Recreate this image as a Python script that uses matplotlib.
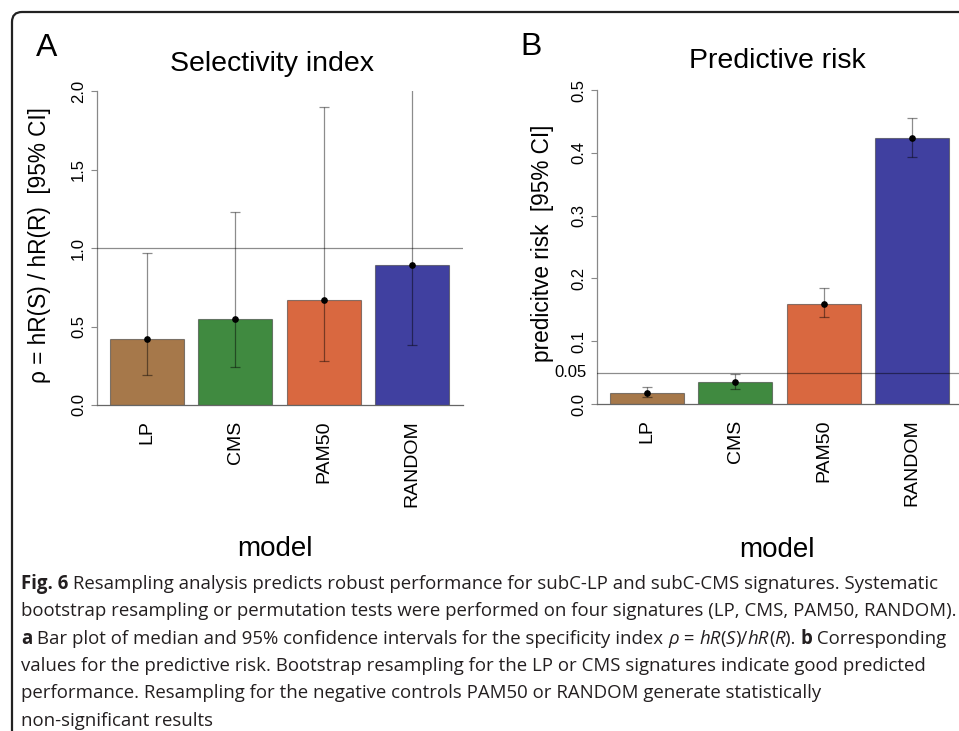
import matplotlib
matplotlib.use('Agg')
import matplotlib.pyplot as plt
from matplotlib.patches import FancyBboxPatch
import numpy as np

# data
models = ['LP', 'CMS', 'PAM50', 'RANDOM']
bar_colors = ['#A6784A', '#408A40', '#D96840', '#4040A0']

sel_median = [0.42, 0.545, 0.67, 0.89]
sel_lower = [0.19, 0.245, 0.28, 0.385]
sel_upper = [0.965, 1.23, 1.90, 2.10]   # RANDOM upper runs off the top

risk_median = [0.017, 0.0345, 0.160, 0.424]
risk_lower = [0.011, 0.024, 0.139, 0.393]
risk_upper = [0.027, 0.047, 0.185, 0.455]

sel_ticks = [0.0, 0.5, 1.0, 1.5, 2.0]
risk_ticks = [0.0, 0.1, 0.2, 0.3, 0.4, 0.5]

W, H = 959, 731
CHART_FONT = 'Liberation Sans'
CAP_FONT = 'Open Sans'

plt.rcParams['font.family'] = [CHART_FONT, 'DejaVu Sans']

fig = plt.figure(figsize=(W / 100, H / 100), dpi=100)


def fx(x):
    return x / W


def fy(y):
    return 1 - y / H


def draw_panel(ax, med, lo, hi, ymax, yticks, ref):
    med, lo, hi = np.array(med), np.array(lo), np.array(hi)
    x = 0.7 + 1.2 * np.arange(len(models))
    ax.bar(x, med, width=1.0, color=bar_colors,
           edgecolor=(0.2, 0.2, 0.2, 0.55), linewidth=0.8, zorder=2)
    ax.errorbar(x, med, yerr=[med - lo, hi - med], fmt='none',
                ecolor=(0, 0, 0, 0.45), elinewidth=0.9, capsize=3.5,
                capthick=0.9, zorder=3)
    ax.plot(x, med, 'o', color='black', ms=3.8, zorder=4)
    ax.axhline(ref, color=(0, 0, 0, 0.45), lw=0.9, zorder=5)
    ax.set_xlim(0.024, 4.99)
    ax.set_ylim(0, ymax)
    ax.set_xticks(x)
    ax.set_xticklabels(models, rotation=90, fontsize=14)
    ax.tick_params(axis='x', length=0, pad=11)
    ax.set_yticks(yticks)
    ax.set_yticklabels([f'{t:.1f}' for t in yticks], rotation=90,
                       va='center', fontsize=12)
    ax.tick_params(axis='y', length=4, width=0.8, color='#888', pad=4)
    for s in ['top', 'right']:
        ax.spines[s].set_visible(False)
    ax.spines['left'].set_color('#888')
    ax.spines['bottom'].set_color('#666')
    ax.spines['left'].set_linewidth(0.9)
    ax.spines['bottom'].set_linewidth(0.9)
    ax.set_facecolor('none')


ax1 = fig.add_axes([fx(97), fy(405), 366 / W, 314 / H])
draw_panel(ax1, sel_median, sel_lower, sel_upper, 2.0, sel_ticks, 1.0)

ax2 = fig.add_axes([fx(597), fy(404), 366 / W, 314 / H])
draw_panel(ax2, risk_median, risk_lower, risk_upper, 0.5, risk_ticks, 0.05)
ax2.annotate('0.05', xy=(0, 0.05), xycoords=('axes fraction', 'data'),
             xytext=(-7.5, 0), textcoords='offset points',
             ha='right', va='center', fontsize=12)

# panel letters, titles, axis labels
fig.text(fx(36), fy(56), 'A', fontsize=23, va='baseline', ha='left')
fig.text(fx(520), fy(55), 'B', fontsize=23, va='baseline', ha='left')
fig.text(fx(272), fy(71), 'Selectivity index', fontsize=20.5, ha='center', va='baseline')
fig.text(fx(777), fy(68), 'Predictive risk', fontsize=20.5, ha='center', va='baseline')
fig.text(fx(275), fy(556), 'model', fontsize=20, ha='center', va='baseline')
fig.text(fx(777), fy(557), 'model', fontsize=20, ha='center', va='baseline')
fig.text(fx(40), fy(245), 'ρ = hR(S) / hR(R)  [95% CI]', fontsize=16.3,
         rotation=90, ha='center', va='center')
fig.text(fx(542), fy(243), 'predicitve risk  [95% CI]', fontsize=16.3,
         rotation=90, ha='center', va='center')

# rounded frame, open to the right and bottom
frame = FancyBboxPatch((0.12, -1.0), 12.0, 7.19 + 1.0,
                       boxstyle='round,pad=0,rounding_size=0.1',
                       transform=fig.dpi_scale_trans, fill=False,
                       lw=1.6, ec='#222')
fig.add_artist(frame)

# caption
cap_size = 13.4
cap_lines = [
    [('Fig. 6', 'bold', 'normal'),
     (' Resampling analysis predicts robust performance for subC-LP and subC-CMS signatures. Systematic', 'normal', 'normal')],
    [('bootstrap resampling or permutation tests were performed on four signatures (LP, CMS, PAM50, RANDOM).', 'normal', 'normal')],
    [('a', 'bold', 'normal'),
     (' Bar plot of median and 95% confidence intervals for the specificity index ', 'normal', 'normal'),
     ('ρ', 'normal', 'italic'), (' = ', 'normal', 'normal'),
     ('hR', 'normal', 'italic'), ('(', 'normal', 'normal'), ('S', 'normal', 'italic'),
     (')/', 'normal', 'normal'), ('hR', 'normal', 'italic'), ('(', 'normal', 'normal'),
     ('R', 'normal', 'italic'), ('). ', 'normal', 'normal'),
     ('b', 'bold', 'normal'), (' Corresponding', 'normal', 'normal')],
    [('values for the predictive risk. Bootstrap resampling for the LP or CMS signatures indicate good predicted', 'normal', 'normal')],
    [('performance. Resampling for the negative controls PAM50 or RANDOM generate statistically', 'normal', 'normal')],
    [('non-significant results', 'normal', 'normal')],
]
cap_baselines = [589, 616.5, 644, 671, 698.5, 726]

renderer = fig.canvas.get_renderer()


def advance(txt, weight, style):
    # width including leading/trailing spaces, measured between two bars
    kw = dict(fontsize=cap_size, fontweight=weight, fontstyle=style,
              family=[CAP_FONT, 'DejaVu Sans'])
    a = fig.text(0, 0, '|' + txt + '|', **kw)
    b = fig.text(0, 0, '||', **kw)
    w = a.get_window_extent(renderer).width - b.get_window_extent(renderer).width
    a.remove()
    b.remove()
    return w


for parts, base in zip(cap_lines, cap_baselines):
    x = 21
    for txt, weight, style in parts:
        fig.text(fx(x), fy(base), txt, fontsize=cap_size, fontweight=weight,
                 fontstyle=style, family=[CAP_FONT, 'DejaVu Sans'],
                 color='#231f20', ha='left', va='baseline')
        x += advance(txt, weight, style)

fig.savefig('out.png', dpi=100)
